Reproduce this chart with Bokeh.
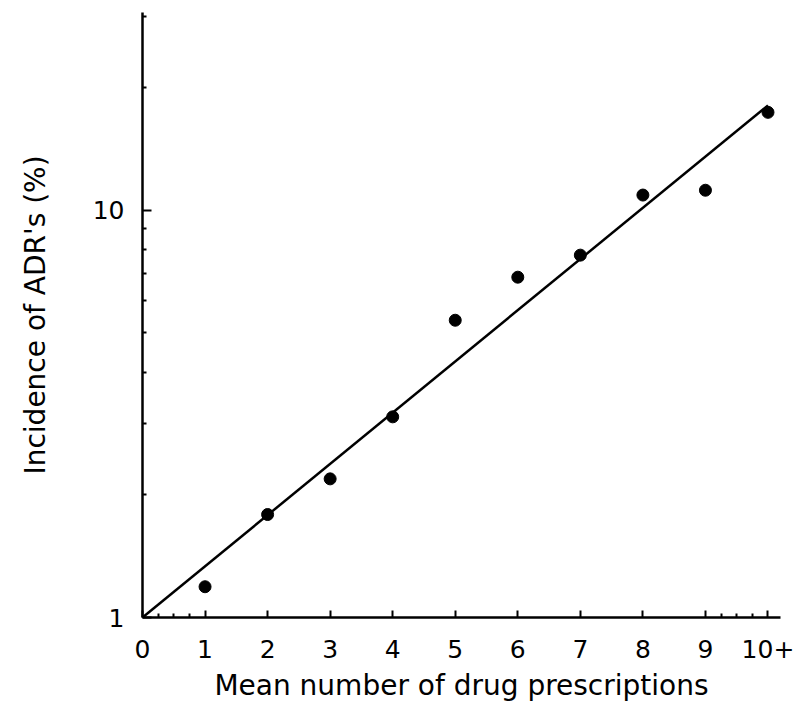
from bokeh.plotting import figure
from bokeh.models import Range1d, FixedTicker
from bokeh.embed import file_html
from bokeh.resources import INLINE

# Data
drugs = [1, 2, 3, 4, 5, 6, 7, 8, 9, 10]
incidence = [1.19, 1.79, 2.19, 3.11, 5.37, 6.85, 7.76, 10.9, 11.2, 17.4]
fit_x = [0, 10]
fit_y = [1.0, 18.1]
x_ticks = [0, 1, 2, 3, 4, 5, 6, 7, 8, 9, 10]
x_labels = {10: "10+"}
y_ticks = [1, 10]
y_minor = [2, 3, 4, 5, 6, 7, 8, 9, 20, 30]

FONT = "DejaVu Sans"

p = figure(width=795, height=704, output_backend="svg", toolbar_location=None,
           y_axis_type="log",
           x_range=Range1d(0, 10.2), y_range=Range1d(1, 30.6),
           min_border_left=142, min_border_top=12, min_border_right=15,
           min_border_bottom=86)
p.outline_line_color = None
p.xgrid.visible = False
p.ygrid.visible = False
p.background_fill_color = "white"
p.border_fill_color = "white"

p.line(fit_x, fit_y, line_color="black", line_width=2.5)
p.scatter(drugs, incidence, size=12, fill_color="black", line_color="black")

xa = p.xaxis[0]
xa.ticker = FixedTicker(ticks=x_ticks, minor_ticks=[0.25, 0.5, 0.75, 9.25, 9.5, 9.75])
xa.major_label_overrides = x_labels
xa.axis_label = "Mean number of drug prescriptions"
xa.axis_label_text_font = FONT
xa.axis_label_text_font_size = "28px"
xa.axis_label_text_font_style = "normal"
xa.axis_label_text_color = "black"
xa.axis_label_standoff = 8
xa.major_label_text_font = FONT
xa.major_label_text_font_size = "25px"
xa.major_label_text_color = "black"
xa.major_label_standoff = 22
xa.axis_line_width = 2.5
xa.major_tick_in = 7
xa.major_tick_out = 0
xa.minor_tick_in = 4
xa.minor_tick_out = 0
xa.major_tick_line_width = 2
xa.minor_tick_line_width = 2

ya = p.yaxis[0]
ya.ticker = FixedTicker(ticks=y_ticks, minor_ticks=y_minor)
ya.major_label_overrides = {1: "1", 10: "10"}
ya.axis_label = "Incidence of ADR's (%)"
ya.axis_label_text_font = FONT
ya.axis_label_text_font_size = "28px"
ya.axis_label_text_font_style = "normal"
ya.axis_label_text_color = "black"
ya.axis_label_standoff = 38
ya.major_label_text_font = FONT
ya.major_label_text_font_size = "25px"
ya.major_label_text_color = "black"
ya.major_label_standoff = 18
ya.major_label_orientation = "horizontal"
ya.axis_line_width = 2.5
ya.major_tick_in = 9
ya.major_tick_out = 0
ya.minor_tick_in = 4
ya.minor_tick_out = 0
ya.major_tick_line_width = 2
ya.minor_tick_line_width = 2

open("out.html", "w").write(file_html(p, INLINE))
